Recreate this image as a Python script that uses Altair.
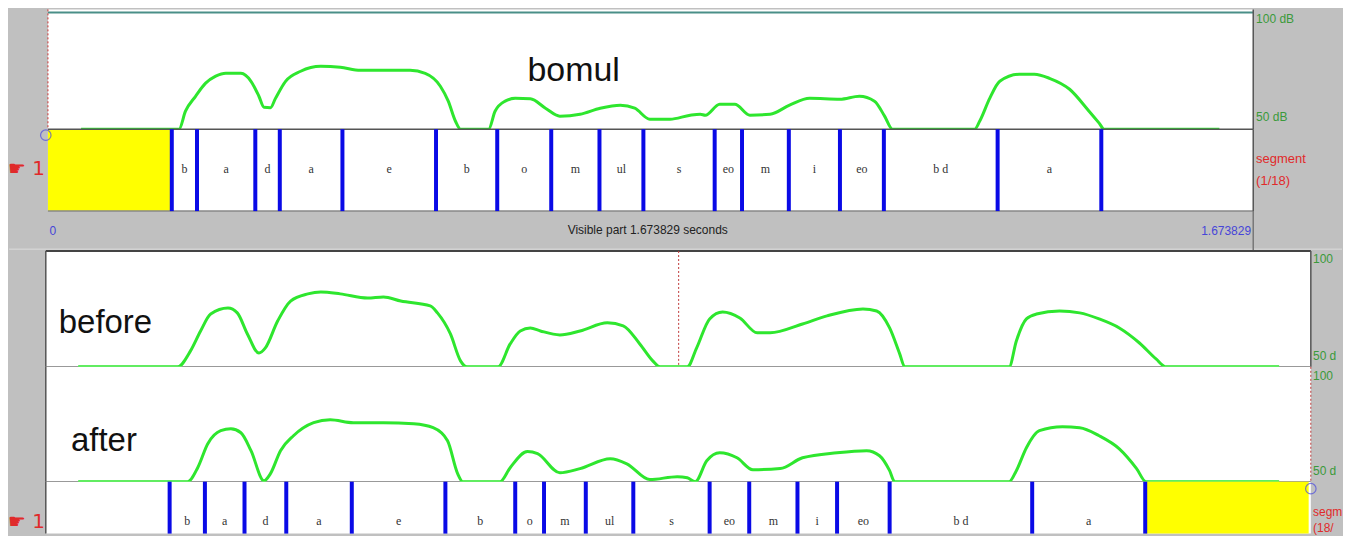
import altair as alt
import pandas as pd

# ---------------- data (time in seconds, level in dB) ----------------
top_curve = [(0.046,50),(0.182,50),(0.191,57.7),(0.205,64.1),(0.219,69.7),(0.233,72.7),(0.247,74.0),(0.268,73.9),
             (0.282,70.5),(0.293,64.1),(0.300,59.4),(0.309,59.2),(0.316,63.2),(0.330,70.5),(0.351,74.8),(0.379,76.9),
             (0.406,76.5),(0.434,75.2),(0.490,75.2),(0.503,75.2),(0.524,73.9),(0.545,68.4),(0.556,62.0),(0.566,53.4),
             (0.573,50),(0.612,50),(0.621,57.7),(0.635,62.0),(0.649,63.2),(0.670,63.0),(0.691,59.0),(0.711,55.6),
             (0.739,56.4),(0.767,59.0),(0.795,60.3),(0.815,59.0),(0.836,54.3),(0.864,54.3),(0.892,56.0),(0.906,56.4),
             (0.913,56.0),(0.933,60.7),(0.954,60.7),(0.975,56.0),(1.003,56.4),(1.030,60.3),(1.058,63.2),(1.100,62.8),
             (1.127,64.1),(1.148,62.0),(1.162,55.6),(1.173,50),(1.287,50),(1.294,53.4),(1.308,63.2),(1.322,70.5),
             (1.349,73.5),(1.370,73.5),(1.391,71.8),(1.419,67.1),(1.446,57.7),(1.460,52.6),(1.467,50),(1.627,50)]

before_curve = [(0.042,50),(0.180,50),(0.198,56.9),(0.212,65.5),(0.226,72.8),(0.250,75.4),(0.263,73.3),(0.277,64.2),
                (0.293,56.0),(0.302,58.2),(0.319,69.8),(0.337,78.4),(0.361,81.5),(0.379,82.3),(0.406,81.5),(0.444,79.7),
                (0.466,80.2),(0.490,78.4),(0.531,76.3),(0.541,73.3),(0.559,64.2),(0.573,52.6),(0.582,50),(0.625,50),
                (0.642,59.9),(0.656,65.5),(0.670,66.8),(0.684,65.5),(0.711,63.8),(0.739,65.5),(0.777,69.0),(0.799,67.7),
                (0.822,59.9),(0.840,52.6),(0.850,50),(0.888,50),(0.901,58.2),(0.919,70.7),(0.937,73.7),(0.961,71.1),
                (0.985,64.7),(1.003,64.7),(1.048,68.5),(1.082,72.0),(1.132,75.0),(1.151,74.1),(1.169,66.8),(1.183,55.6),
                (1.190,50),(1.335,50),(1.345,61.2),(1.359,70.7),(1.373,72.8),(1.405,74.1),(1.433,73.3),(1.460,70.7),
                (1.488,66.8),(1.516,60.3),(1.539,53.4),(1.553,50),(1.710,50)]

after_curve = [(0.042,50),(0.194,50),(0.208,56.1),(0.222,66.5),(0.240,72.2),(0.254,73.0),(0.268,71.3),(0.282,63.5),
               (0.300,50.4),(0.309,53.5),(0.323,63.5),(0.341,70.0),(0.369,75.7),(0.392,77.0),(0.424,75.7),(0.466,75.7),
               (0.508,75.2),(0.535,73.5),(0.555,67.8),(0.569,53.5),(0.576,50),(0.628,50),(0.642,56.1),(0.666,63.1),
               (0.680,62.2),(0.711,53.9),(0.739,55.7),(0.781,60.0),(0.804,57.8),(0.836,50.9),(0.874,52.2),(0.888,51.7),
               (0.899,50),(0.915,59.1),(0.933,62.6),(0.957,60.4),(0.979,55.2),(1.017,55.7),(1.048,60.4),(1.096,62.6),
               (1.137,63.5),(1.155,61.3),(1.169,54.8),(1.176,50),(1.335,50),(1.345,54.8),(1.359,64.8),(1.377,72.2),
               (1.409,73.9),(1.433,73.5),(1.460,70.0),(1.488,64.3),(1.512,55.7),(1.525,50),(1.710,50)]

segment_labels = ["b", "a", "d", "a", "e", "b", "o", "m", "ul", "s", "eo", "m", "i", "eo", "b d", "a"]
top_bounds = [0.172, 0.207, 0.288, 0.322, 0.409, 0.539, 0.624, 0.699, 0.766, 0.827,
              0.926, 0.964, 1.029, 1.100, 1.161, 1.319, 1.463]
bot_bounds = [0.169, 0.218, 0.273, 0.331, 0.422, 0.552, 0.649, 0.689, 0.747, 0.813,
              0.919, 0.974, 1.041, 1.096, 1.169, 1.367, 1.524]

footer_texts = ["0", "Visible part 1.673829 seconds", "1.673829"]
top_scale_labels = ["100 dB", "50 dB"]
bottom_scale_labels = ["100", "50 d"]          # as far as they are visible at the window edge
top_tier_labels = ["segment", "(1/18)"]
bottom_tier_labels = ["segm", "(18/"]          # as far as they are visible at the window edge
tier_marker = "☛ 1"

# ---------------- layout constants ----------------
W = 1335
XDOM = [-0.0541, 1.7973]
TOP_T0, TOP_T1 = 0.0, 1.674
BOT_T0, BOT_T1 = -0.003, 1.754
H1, H2, H3, H4, H5, H6 = 120, 82, 40, 116, 115, 52
GREEN = "#2ee62e"
BLUE = "#0a0ae6"
RED = "#e02a2a"
DBGREEN = "#3a9a3a"
SANS = "Liberation Sans"

xs = alt.Scale(domain=XDOM, nice=False, zero=False)


def X(f):
    return alt.X(f, type="quantitative", scale=xs, axis=None)


def Y(f, dom):
    return alt.Y(f, type="quantitative", scale=alt.Scale(domain=dom, nice=False, zero=False), axis=None)


def curve_df(pts):
    return pd.DataFrame(pts, columns=["t", "db"])


def tier_df(bounds):
    return pd.DataFrame({"t0": bounds[:-1], "t1": bounds[1:], "label": segment_labels}).assign(
        mid=lambda d: (d.t0 + d.t1) / 2)


def panel(t0, t1, lo, hi):
    return pd.DataFrame({"t0": [t0], "t1": [t1], "lo": [lo], "hi": [hi]})


def text_layer(df, dom, **kw):
    return alt.Chart(df).mark_text(**kw).encode(x=X("t"), y=Y("y", dom), text="s:N")


# ---------------- row 1: top intensity ----------------
D1 = [50, 101.28]
p1 = panel(TOP_T0, TOP_T1, 50, 100)
row1 = alt.layer(
    alt.Chart(p1).mark_rect(color="white").encode(x=X("t0"), x2="t1"),
    alt.Chart(p1).mark_rule(color="#4a8f88", strokeWidth=2).encode(x=X("t0"), x2="t1", y=Y("hi", D1)),
    alt.Chart(p1).mark_rule(color="#cc3333", strokeDash=[2, 2], strokeWidth=1).encode(x=X("t0")),
    alt.Chart(p1).mark_rule(color="#555555", strokeWidth=1.5).encode(x=X("t1")),
    alt.Chart(curve_df(top_curve)).mark_line(color=GREEN, strokeWidth=3, interpolate="monotone").encode(
        x=X("t"), y=Y("db", D1)),
    text_layer(pd.DataFrame({"t": [0.666], "y": [70.5], "s": ["bomul"]}), D1,
               align="left", baseline="alphabetic", font=SANS, fontSize=34, color="#111111"),
    text_layer(pd.DataFrame({"t": [1.678], "y": [100], "s": [top_scale_labels[0]]}), D1,
               align="left", baseline="top", dy=2, font=SANS, fontSize=12, color=DBGREEN),
    text_layer(pd.DataFrame({"t": [1.678], "y": [50], "s": [top_scale_labels[1]]}), D1,
               align="left", baseline="bottom", dy=-5, font=SANS, fontSize=12, color=DBGREEN),
).properties(width=W, height=H1)

# ---------------- row 2: top segment tier ----------------
D01 = [0, 1]
p2 = panel(TOP_T0, TOP_T1, 0, 1)
tt = tier_df(top_bounds)
row2 = alt.layer(
    alt.Chart(p2).mark_rect(color="white").encode(x=X("t0"), x2="t1"),
    alt.Chart(pd.DataFrame({"t0": [TOP_T0], "t1": [top_bounds[0]]})).mark_rect(color="#ffff00").encode(
        x=X("t0"), x2="t1"),
    alt.Chart(p2).mark_rule(color="#555555", strokeWidth=1.5).encode(x=X("t0"), x2="t1", y=Y("hi", D01)),
    alt.Chart(p2).mark_rule(color="#888888", strokeWidth=1.5).encode(x=X("t0"), x2="t1", y=Y("lo", D01)),
    alt.Chart(p2).mark_rule(color="#555555", strokeWidth=1.5).encode(x=X("t1")),
    alt.Chart(pd.DataFrame({"t": top_bounds})).mark_rule(color=BLUE, strokeWidth=4).encode(x=X("t")),
    alt.Chart(tt).mark_text(font="Liberation Serif", fontSize=12, color="#333333").encode(
        x=X("mid"), y=alt.value(H2 * 0.49), text="label:N"),
    alt.Chart(pd.DataFrame({"t": [-0.003], "y": [0.927]})).mark_point(
        shape="circle", size=110, filled=False, color="#4b4be0", strokeWidth=1.2).encode(x=X("t"), y=Y("y", D01)),
    text_layer(pd.DataFrame({"t": [-0.004], "y": [0.52], "s": [tier_marker]}), D01,
               align="right", baseline="middle", font="DejaVu Sans", fontSize=20, color=RED),
    text_layer(pd.DataFrame({"t": [1.678, 1.678], "y": [0.634, 0.366], "s": top_tier_labels}), D01,
               align="left", baseline="middle", font=SANS, fontSize=13, color=RED),
).properties(width=W, height=H2)

# ---------------- row 3: footer ----------------
row3 = alt.layer(
    alt.Chart(p2).mark_rule(color="#dddddd", strokeWidth=1).encode(y=Y("lo", [-0.05, 1])),
    alt.Chart(p2).mark_rule(color="#777777", strokeWidth=1.5).encode(x=X("t1")),
    text_layer(pd.DataFrame({"t": [0.002], "y": [0.48], "s": [footer_texts[0]]}), D01,
               align="left", baseline="middle", font=SANS, fontSize=12, color="#4646d8"),
    text_layer(pd.DataFrame({"t": [0.833], "y": [0.5], "s": [footer_texts[1]]}), D01,
               align="center", baseline="middle", font=SANS, fontSize=12, color="#222222"),
    text_layer(pd.DataFrame({"t": [1.671], "y": [0.48], "s": [footer_texts[2]]}), D01,
               align="right", baseline="middle", font=SANS, fontSize=12, color="#4646d8"),
).properties(width=W, height=H3)

# ---------------- row 4: before ----------------
D45 = [50, 100]
p4 = panel(BOT_T0, BOT_T1, 50, 100)
row4 = alt.layer(
    alt.Chart(p4).mark_rect(color="white").encode(x=X("t0"), x2="t1"),
    alt.Chart(p4).mark_rule(color="#444444", strokeWidth=2).encode(x=X("t0"), x2="t1", y=Y("hi", D45)),
    alt.Chart(p4).mark_rule(color="#777777", strokeWidth=1.5).encode(x=X("t0"), x2="t1", y=Y("lo", D45)),
    alt.Chart(p4).mark_rule(color="#555555", strokeWidth=1.5).encode(x=X("t0")),
    alt.Chart(p4).mark_rule(color="#555555", strokeWidth=1.5).encode(x=X("t1")),
    alt.Chart(pd.DataFrame({"t": [0.876]})).mark_rule(color="#c03a3a", strokeDash=[2, 2], strokeWidth=1).encode(
        x=X("t")),
    alt.Chart(curve_df(before_curve)).mark_line(color=GREEN, strokeWidth=3, interpolate="monotone").encode(
        x=X("t"), y=Y("db", D45)),
    text_layer(pd.DataFrame({"t": [0.015], "y": [64.7], "s": ["before"]}), D45,
               align="left", baseline="alphabetic", font=SANS, fontSize=33, color="#111111"),
    text_layer(pd.DataFrame({"t": [1.757], "y": [100], "s": [bottom_scale_labels[0]]}), D45,
               align="left", baseline="top", dy=3, font=SANS, fontSize=12, color=DBGREEN),
    text_layer(pd.DataFrame({"t": [1.757], "y": [50], "s": [bottom_scale_labels[1]]}), D45,
               align="left", baseline="bottom", dy=-4, font=SANS, fontSize=12, color=DBGREEN),
).properties(width=W, height=H4)

# ---------------- row 5: after ----------------
row5 = alt.layer(
    alt.Chart(p4).mark_rect(color="white").encode(x=X("t0"), x2="t1"),
    alt.Chart(p4).mark_rule(color="#777777", strokeWidth=1.5).encode(x=X("t0"), x2="t1", y=Y("lo", D45)),
    alt.Chart(p4).mark_rule(color="#555555", strokeWidth=1.5).encode(x=X("t0")),
    alt.Chart(p4).mark_rule(color="#c03a3a", strokeDash=[2, 2], strokeWidth=1).encode(x=X("t1")),
    alt.Chart(curve_df(after_curve)).mark_line(color=GREEN, strokeWidth=3, interpolate="monotone").encode(
        x=X("t"), y=Y("db", D45)),
    text_layer(pd.DataFrame({"t": [0.032], "y": [63.5], "s": ["after"]}), D45,
               align="left", baseline="alphabetic", font=SANS, fontSize=33, color="#111111"),
    text_layer(pd.DataFrame({"t": [1.757], "y": [100], "s": [bottom_scale_labels[0]]}), D45,
               align="left", baseline="top", dy=4, font=SANS, fontSize=12, color=DBGREEN),
    text_layer(pd.DataFrame({"t": [1.757], "y": [50], "s": [bottom_scale_labels[1]]}), D45,
               align="left", baseline="bottom", dy=-4, font=SANS, fontSize=12, color=DBGREEN),
).properties(width=W, height=H5)

# ---------------- row 6: bottom segment tier ----------------
p6 = panel(BOT_T0, BOT_T1, 0, 1)
bt = tier_df(bot_bounds)
row6 = alt.layer(
    alt.Chart(p6).mark_rect(color="white").encode(x=X("t0"), x2="t1"),
    alt.Chart(pd.DataFrame({"t0": [bot_bounds[-1]], "t1": [1.751]})).mark_rect(color="#ffff00").encode(
        x=X("t0"), x2="t1"),
    alt.Chart(p6).mark_rule(color="#555555", strokeWidth=1.5).encode(x=X("t0")),
    alt.Chart(pd.DataFrame({"t": bot_bounds})).mark_rule(color=BLUE, strokeWidth=4).encode(x=X("t")),
    alt.Chart(bt).mark_text(font="Liberation Serif", fontSize=12, color="#333333").encode(
        x=X("mid"), y=alt.value(H6 * 0.75), text="label:N"),
    alt.Chart(pd.DataFrame({"t": [1.754], "y": [0.865]})).mark_point(
        shape="circle", size=110, filled=False, color="#4b4be0", strokeWidth=1.2).encode(x=X("t"), y=Y("y", D01)),
    text_layer(pd.DataFrame({"t": [-0.004], "y": [0.22], "s": [tier_marker]}), D01,
               align="right", baseline="middle", font="DejaVu Sans", fontSize=20, color=RED),
    text_layer(pd.DataFrame({"t": [1.757, 1.757], "y": [0.42, 0.10], "s": bottom_tier_labels}), D01,
               align="left", baseline="middle", font=SANS, fontSize=12, color=RED),
).properties(width=W, height=H6)

chart = alt.vconcat(row1, row2, row3, row4, row5, row6, spacing=0, bounds="flush").properties(
    padding=0
).configure(background="#c0c0c0").configure_view(stroke=None)

chart.save("out.html", embed_options={"renderer": "svg", "actions": False})
